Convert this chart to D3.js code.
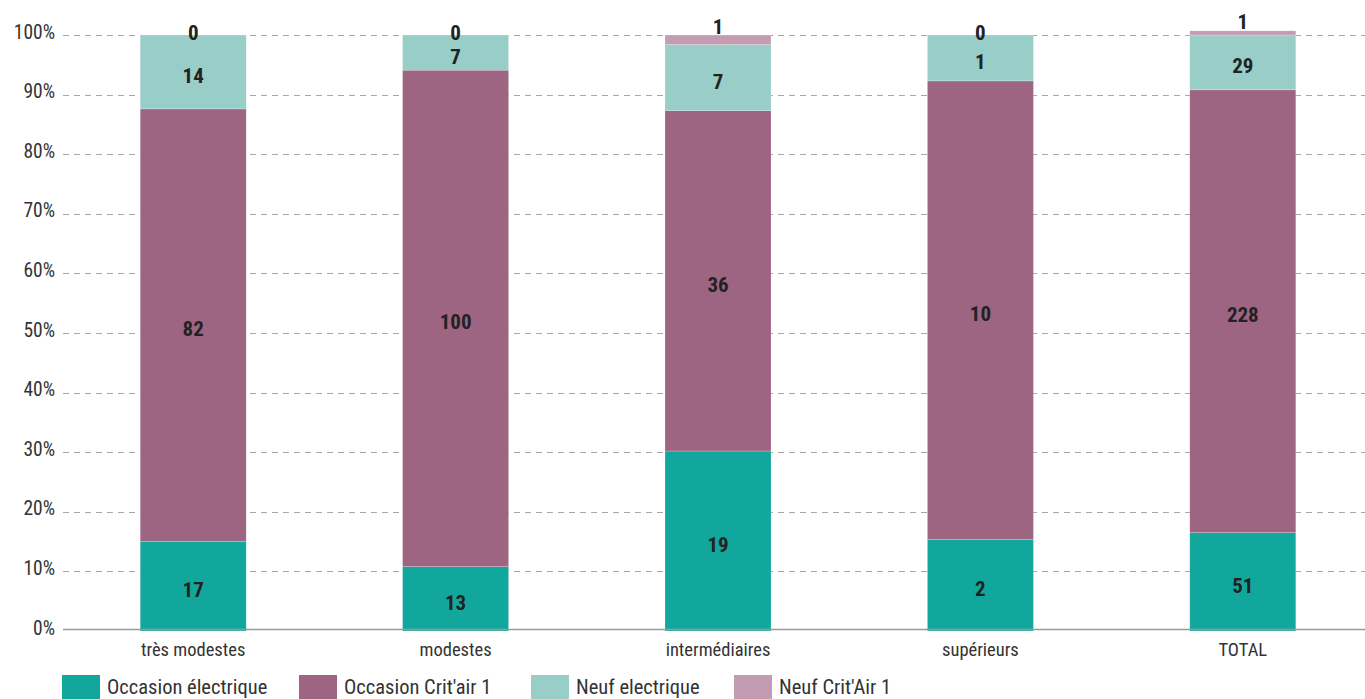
<!DOCTYPE html>
<html><head><meta charset="utf-8">
<script src="https://cdn.jsdelivr.net/npm/d3@7"></script>
<style>
body{margin:0;background:#fff;overflow:hidden}
text{font-family:"Roboto Condensed",Roboto,sans-serif;font-stretch:condensed;}
</style>
</head><body>
<svg id="c" width="1365" height="699"></svg>
<script>
const categories = ["très modestes", "modestes", "intermédiaires", "supérieurs", "TOTAL"];
const seriesNames = ["Occasion électrique", "Occasion Crit'air 1", "Neuf electrique", "Neuf Crit'Air 1"];
// counts shown as labels
const occasionElectrique = [17, 13, 19, 2, 51];
const occasionCritair = [82, 100, 36, 10, 228];
const neufElectrique = [14, 7, 7, 1, 29];
const neufCritair = [0, 0, 1, 0, 1];
// shares (%) as drawn in the bars
const occasionElectriquePct = [15.0, 10.8, 30.2, 15.4, 16.5];
const occasionCritairPct = [72.6, 83.3, 57.1, 76.9, 74.3];
const neufElectriquePct = [12.4, 5.9, 11.1, 7.7, 9.2];
const neufCritairPct = [0, 0, 1.6, 0, 0.7];
const yTicks = [0, 10, 20, 30, 40, 50, 60, 70, 80, 90, 100];
const colors = ["#12a79c", "#9e6583", "#99cdc8", "#c39cb1"];

const counts = [occasionElectrique, occasionCritair, neufElectrique, neufCritair];
const pcts = [occasionElectriquePct, occasionCritairPct, neufElectriquePct, neufCritairPct];
const keys = ["s0", "s1", "s2", "s3"];
const rows = categories.map((c, i) => {
  const r = {cat: c};
  keys.forEach((k, j) => { r[k] = pcts[j][i]; r[k + "n"] = counts[j][i]; });
  return r;
});

const svg = d3.select("#c");
const W = 1365;
const x = d3.scaleBand().domain(categories).range([62, 1374]).paddingInner(0.596).paddingOuter(0.298);
const y = d3.scaleLinear().domain([0, 100]).range([631, 35]);

// gridlines
svg.append("g").selectAll("line").data(yTicks.filter(t => t > 0)).join("line")
  .attr("x1", 63).attr("x2", W).attr("y1", d => Math.round(y(d)) + 0.5).attr("y2", d => Math.round(y(d)) + 0.5)
  .attr("stroke", "#a8a8a8").attr("stroke-width", 1).attr("stroke-dasharray", "6,5");

// y axis labels
const yAxis = d3.axisLeft(y).tickValues(yTicks).tickFormat(d => d + "%").tickSize(0).tickPadding(0);
const ya = svg.append("g").attr("transform", "translate(55,0)").call(yAxis);
ya.select(".domain").remove();
ya.selectAll("text").attr("font-size", 19.5).attr("fill", "#333").attr("dy", "3")
  .attr("dominant-baseline", "auto").attr("x", 0).attr("font-family", null);

// stacks
const stack = d3.stack().keys(keys)(rows);
const g = svg.append("g");
stack.forEach((layer, j) => {
  g.append("g").attr("fill", colors[j]).selectAll("rect").data(layer).join("rect")
    .attr("x", d => x(d.data.cat)).attr("width", x.bandwidth())
    .attr("y", d => y(d[1])).attr("height", d => y(d[0]) - y(d[1]))
    .attr("stroke", "rgba(255,255,255,0.35)").attr("stroke-width", 0.6);
});

// baseline
svg.append("line").attr("x1", 63).attr("x2", W).attr("y1", y(0) - 1.5).attr("y2", y(0) - 1.5)
  .attr("stroke", "#999").attr("stroke-width", 1.5);

// value labels
stack.forEach((layer, j) => {
  svg.append("g").selectAll("text").data(layer).join("text")
    .attr("x", d => x(d.data.cat) + x.bandwidth() / 2)
    .attr("y", d => {
      const h = y(d[0]) - y(d[1]);
      if (j === 3) {
        if (h < 0.5) return y(d[1]) + 5;
        return y(d[1]) - 1.5;
      }
      return (y(d[0]) + y(d[1])) / 2 + 11;
    })
    .attr("text-anchor", "middle").attr("font-size", 21).attr("font-weight", 700).attr("fill", "#222")
    .text(d => d.data[keys[j] + "n"]);
});

// category labels
const xa = svg.append("g").attr("transform", `translate(0,${y(0)})`)
  .call(d3.axisBottom(x).tickSize(0).tickPadding(0));
xa.select(".domain").remove();
xa.selectAll("text").attr("font-size", 18.5).attr("fill", "#333").attr("dy", null).attr("y", 25).attr("font-family", null);

// legend
const legendX = [62, 299, 531, 734];
const lg = svg.append("g");
seriesNames.forEach((n, j) => {
  const lx = legendX[j];
  lg.append("rect").attr("x", lx).attr("y", 675).attr("width", 38).attr("height", 26).attr("fill", colors[j]);
  lg.append("text").attr("x", lx + 45).attr("y", 694).attr("font-size", 20.5).attr("fill", "#333").text(n);
});
</script>
</body></html>
